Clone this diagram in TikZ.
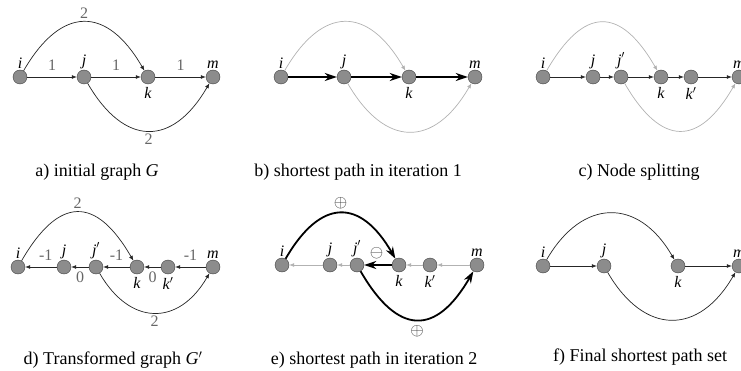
\documentclass[tikz,border=0pt]{standalone}
\usepackage{fontspec}
\setmainfont{Liberation Serif}
\usetikzlibrary{arrows.meta, positioning}

\tikzset{
  vertex/.style={circle, draw=black!75, fill=black!45, minimum size=14pt, inner sep=0pt},
  nlabel/.style={font=\fontsize{16}{16}\selectfont\itshape, inner sep=1pt},
  wlabel/.style={font=\fontsize{16}{16}\selectfont, text=black!60, inner sep=3pt},
  sign/.style={font=\fontsize{19}{19}\selectfont, text=black!80, inner sep=2pt},
  edge/.style={-{Latex[length=5pt,width=4pt]}, black!85, line width=0.7pt},
  faint/.style={-{Latex[length=5pt,width=4pt]}, black!30, line width=0.7pt},
  bold/.style={-{Stealth[length=12pt,width=8pt]}, line width=1.8pt},
  caption/.style={font=\fontsize{18}{20}\selectfont}
}

\begin{document}
\begin{tikzpicture}[x=1pt, y=1pt]
\useasboundingbox (0,0) rectangle (741,370);

% a) initial graph
\node[vertex, label={[nlabel]above:i}] (ai) at (20,293) {};
\node[vertex, label={[nlabel]above:j}] (aj) at (84,293) {};
\node[vertex, label={[nlabel, label distance=2pt]below:k}] (ak) at (148,293) {};
\node[vertex, label={[nlabel]above:m}] (am) at (213,293) {};
\draw[edge] (ai) -- node[wlabel, above=3pt] {1} (aj);
\draw[edge] (aj) -- node[wlabel, above=3pt] {1} (ak);
\draw[edge] (ak) -- node[wlabel, above=3pt] {1} (am);
\draw[edge] (ai) to[out=60, in=120, looseness=1.6] node[wlabel, above] {2} (ak);
\draw[edge] (aj) to[out=-60, in=-120, looseness=1.55] node[wlabel, below] {2} (am);
\node[caption] (capa) at (97,198) {a) initial graph \textit{G}};

% b) iteration 1
\node[vertex, label={[nlabel]above:i}] (bi) at (281,293) {};
\node[vertex, label={[nlabel]above:j}] (bj) at (344,293) {};
\node[vertex, label={[nlabel, label distance=2pt]below:k}] (bk) at (409,293) {};
\node[vertex, label={[nlabel]above:m}] (bm) at (475,293) {};
\draw[faint] (bi) to[out=60, in=120, looseness=1.6] (bk);
\draw[faint] (bj) to[out=-60, in=-120, looseness=1.55] (bm);
\draw[bold] (bi) -- (bj);
\draw[bold] (bj) -- (bk);
\draw[bold] (bk) -- (bm);
\node[caption] (capb) at (358,198) {b) shortest path in iteration 1};

% c) node splitting
\node[vertex, label={[nlabel]above:i}] (ci) at (543,293) {};
\node[vertex, label={[nlabel]above:j}] (cj) at (593,293) {};
\node[vertex, label={[nlabel]above:j$'$}] (cjj) at (621,293) {};
\node[vertex, label={[nlabel, label distance=2pt]below:k}] (ck) at (661,293) {};
\node[vertex, label={[nlabel, label distance=2pt]below:k$'$}] (ckk) at (691,293) {};
\node[vertex, label={[nlabel]above:m}] (cm) at (739,293) {};
\draw[faint] (ci) to[out=60, in=120, looseness=1.73] (ck);
\draw[faint] (cjj) to[out=-60, in=-120, looseness=1.7] (cm);
\draw[edge] (ci) -- (cj);
\draw[edge] (cj) -- (cjj);
\draw[edge] (cjj) -- (ck);
\draw[edge] (ck) -- (ckk);
\draw[edge] (ckk) -- (cm);
\node[caption] (capc) at (639,198) {c) Node splitting};

% d) transformed graph
\node[vertex, label={[nlabel]above:i}] (di) at (18,103) {};
\node[vertex, label={[nlabel]above:j}] (dj) at (64,103) {};
\node[vertex, label={[nlabel]above:j$'$}] (djj) at (96,103) {};
\node[vertex, label={[nlabel, label distance=2pt]below:k}] (dk) at (137,103) {};
\node[vertex, label={[nlabel, label distance=2pt]below:k$'$}] (dkk) at (168,103) {};
\node[vertex, label={[nlabel]above:m}] (dm) at (213,103) {};
\draw[edge] (dj) -- node[wlabel, above=3pt, pos=0.35] {-1} (di);
\draw[edge] (djj) -- node[wlabel, below=2pt] {0} (dj);
\draw[edge] (dk) -- node[wlabel, above=3pt] {-1} (djj);
\draw[edge] (dkk) -- node[wlabel, below=2pt] {0} (dk);
\draw[edge] (dm) -- node[wlabel, above=3pt] {-1} (dkk);
\draw[edge] (di) to[out=60, in=120, looseness=1.72] node[wlabel, above] {2} (dk);
\draw[edge] (djj) to[out=-60, in=-120, looseness=1.43] node[wlabel, below] {2} (dm);
\node[caption] (capd) at (113,10) {d) Transformed graph \textit{G}$'$};

% e) iteration 2
\node[vertex, label={[nlabel]above:i}] (ei) at (282,105) {};
\node[vertex, label={[nlabel]above:j}] (ej) at (330,105) {};
\node[vertex, label={[nlabel]above:j$'$}] (ejj) at (357,105) {};
\node[vertex, label={[nlabel, label distance=2pt]below:k}] (ek) at (399,105) {};
\node[vertex, label={[nlabel, label distance=2pt]below:k$'$}] (ekk) at (430,105) {};
\node[vertex, label={[nlabel]above:m}] (em) at (477,105) {};
\draw[faint] (ej) -- (ei);
\draw[faint] (ejj) -- (ej);
\draw[faint] (ekk) -- (ek);
\draw[faint] (em) -- (ekk);
\draw[bold] (ek) -- node[sign, above=3pt, pos=0.55] {$\ominus$} (ejj);
\draw[bold] (ei) to[out=60, in=120, looseness=1.64] node[sign, above=1pt] {$\oplus$} (ek);
\draw[bold] (ejj) to[out=-60, in=-120, looseness=1.7] node[sign, below=3pt] {$\oplus$} (em);
\node[caption] (cape) at (374,10) {e) shortest path in iteration 2};

% f) final path set
\node[vertex, label={[nlabel]above:i}] (fi) at (543,104) {};
\node[vertex, label={[nlabel]above:j}] (fj) at (604,104) {};
\node[vertex, label={[nlabel, label distance=2pt]below:k}] (fk) at (678,104) {};
\node[vertex, label={[nlabel]above:m}] (fm) at (739,104) {};
\draw[edge] (fi) -- (fj);
\draw[edge] (fk) -- (fm);
\draw[edge] (fi) to[out=60, in=120, looseness=1.44] (fk);
\draw[edge] (fj) to[out=-60, in=-120, looseness=1.47] (fm);
\node[caption] (capf) at (640,13) {f) Final shortest path set};

\end{tikzpicture}
\end{document}
